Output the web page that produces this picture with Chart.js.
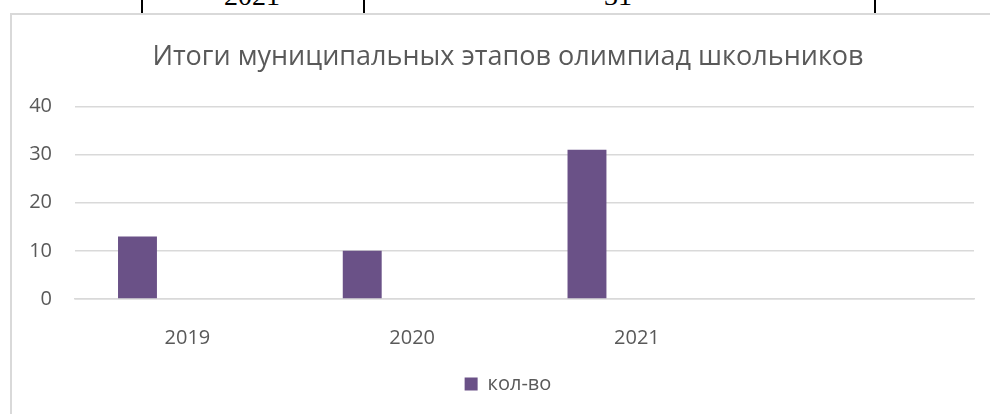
<!DOCTYPE html>
<html>
<head>
<meta charset="utf-8">
<script src="https://cdn.jsdelivr.net/npm/chart.js@4"></script>
<style>
  body { margin: 0; background: #fff; overflow: hidden; }
  #wrap { position: relative; width: 990px; height: 414px; overflow: hidden; }
  .vline { position: absolute; top: 0; width: 2px; height: 14px; background: #000; }
  .cell { position: absolute; top: -18px; font: 28px "Liberation Serif", serif; line-height: 28px; color: #000; transform: translateX(-50%); }
  #box { position: absolute; left: 10px; top: 13px; right: -40px; bottom: -40px; border: 2px solid #d9d9d9; background: #fff; }
  #chartBox { position: absolute; left: 0; top: 0; width: 990px; height: 414px; }
</style>
</head>
<body>
<div id="wrap">
  <div class="vline" style="left:141px"></div>
  <div class="vline" style="left:363px"></div>
  <div class="vline" style="left:874px"></div>
  <div class="cell" style="left:252px">2021</div>
  <div class="cell" style="left:618px">31</div>
  <div id="box"></div>
  <div id="chartBox"><canvas id="Chart"></canvas></div>
</div>
<script>
// данные с диаграммы
const years = ["2019", "2020", "2021", ""];
const kolvo = [13, 10, 31, null];
const empty1 = [null, null, null, null];
const empty2 = [null, null, null, null];
const yTicks = [0, 10, 20, 30, 40];

const textColor = "#595959";
const gridColor = "#d9d9d9";
const barColor = "rgb(106, 81, 135)";
const fontName = "'Open Sans', 'DejaVu Sans', sans-serif";

const makeChart = () => {
  const ctx = document.getElementById("Chart").getContext("2d");
  new Chart(ctx, {
    type: "bar",
    data: {
      labels: years,
      datasets: [
        { label: "кол-во", data: kolvo, backgroundColor: barColor },
        { label: "", data: empty1, backgroundColor: barColor },
        { label: "", data: empty2, backgroundColor: barColor },
      ],
    },
    options: {
      responsive: true,
      maintainAspectRatio: false,
      animation: false,
      categoryPercentage: 0.666,
      barPercentage: 0.78,
      layout: { padding: { left: 26, right: 0, top: 13, bottom: 10 } },
      scales: {
        x: {
          grid: { display: false, drawTicks: false },
          border: { display: true, color: gridColor, width: 1.5 },
          ticks: { color: textColor, font: { family: fontName, size: 20 }, padding: 27 },
          afterFit: (scale) => { scale.height = 65; },
        },
        y: {
          min: 0,
          max: 40,
          afterBuildTicks: (scale) => { scale.ticks = yTicks.map((v) => ({ value: v })); },
          grid: { color: gridColor, lineWidth: 1.5, drawTicks: false },
          border: { display: false },
          ticks: { color: textColor, font: { family: fontName, size: 20 }, padding: 23 },
          afterFit: (scale) => { scale.width = 49; },
        },
        // пустая ось справа - только отступ, как в Excel рамка шире окна
        yRight: {
          position: "right",
          display: true,
          grid: { display: false, drawTicks: false },
          border: { display: false },
          ticks: { display: false },
          afterFit: (scale) => { scale.width = 16; },
        },
      },
      plugins: {
        title: {
          display: true,
          text: "Итоги муниципальных этапов олимпиад школьников",
          color: textColor,
          font: { family: fontName, size: 27, weight: "normal" },
          padding: { top: 28, bottom: 33 },
        },
        legend: {
          position: "bottom",
          labels: {
            color: textColor,
            font: { family: fontName, size: 20 },
            boxWidth: 13,
            boxHeight: 13,
            padding: 10,
            filter: (item) => item.text !== "",
          },
        },
        tooltip: { enabled: false },
      },
    },
  });
};
makeChart();
</script>
</body>
</html>
